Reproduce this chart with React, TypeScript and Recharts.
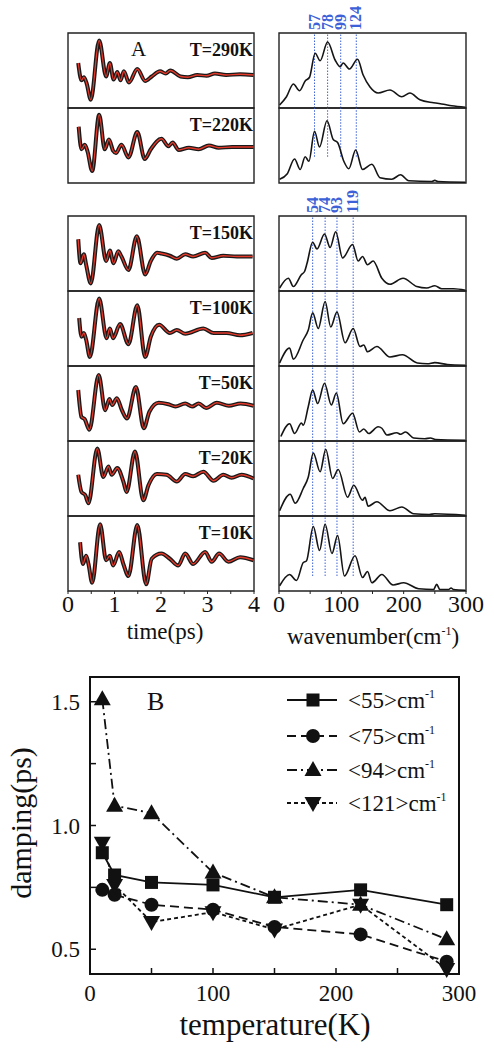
import React from "react";
import {
  LineChart,
  Line,
  XAxis,
  YAxis,
  ReferenceLine,
  ReferenceArea,
  Legend,
  Label,
} from "recharts";

const FONT = '"Liberation Serif", "Times New Roman", serif';
const RED = "#e5392a";
const BLUE = "#3d62d8";

type Pt = [number, number];

// panel A: time traces, [time(ps), relative amplitude 0-100]
const trace290K: Pt[] = [[0.22,60],[0.29,37],[0.34,41],[0.4,33],[0.49,11],[0.67,90],[0.82,42],[0.9,60],[0.98,38],[1.06,48],[1.13,37],[1.2,49],[1.31,34],[1.49,52],[1.66,36],[1.8,42],[1.98,49],[2.1,46],[2.2,50],[2.42,42],[2.58,41],[2.78,44],[2.98,43],[3.16,46],[3.4,44],[3.7,45],[3.99,44]];
const trace220K: Pt[] = [[0.23,75],[0.29,45],[0.36,51],[0.42,42],[0.52,16],[0.67,91],[0.79,45],[0.88,58],[0.97,43],[1.03,40],[1.15,51],[1.3,34],[1.49,68],[1.65,32],[1.78,45],[2.01,59],[2.16,49],[2.25,54],[2.38,44],[2.6,47],[2.81,45],[3.03,50],[3.24,47],[3.53,48],[3.99,48]];
const trace150K: Pt[] = [[0.22,69],[0.27,37],[0.34,49],[0.39,35],[0.49,10],[0.67,88],[0.82,40],[0.9,54],[0.98,37],[1.08,53],[1.15,46],[1.3,28],[1.48,73],[1.66,22],[1.78,40],[1.92,51],[2.01,50],[2.19,47],[2.34,43],[2.52,49],[2.69,46],[2.95,51],[3.09,44],[3.34,47],[3.63,46],[3.97,46]];
const trace100K: Pt[] = [[0.24,64],[0.29,39],[0.34,44],[0.39,35],[0.47,12],[0.67,90],[0.83,37],[0.9,50],[0.97,37],[1.12,56],[1.3,29],[1.49,81],[1.66,12],[1.78,39],[1.96,55],[2.19,44],[2.34,48],[2.52,43],[2.91,50],[3.13,44],[3.41,44],[3.7,41],[3.97,44]];
const trace50K: Pt[] = [[0.22,68],[0.29,32],[0.36,29],[0.46,15],[0.66,88],[0.8,41],[0.89,56],[0.95,48],[1.05,57],[1.16,41],[1.27,30],[1.46,72],[1.63,17],[1.75,39],[1.95,51],[2.16,49],[2.31,46],[2.52,50],[2.67,46],[2.81,50],[2.97,44],[3.2,51],[3.46,47],[3.71,50],[3.99,47]];
const trace20K: Pt[] = [[0.22,55],[0.29,32],[0.37,28],[0.44,17],[0.63,90],[0.76,52],[0.87,66],[0.94,55],[1.06,64],[1.19,46],[1.26,32],[1.44,86],[1.62,21],[1.73,41],[1.91,56],[2.12,55],[2.34,46],[2.52,56],[2.69,53],[2.91,59],[3.13,47],[3.34,55],[3.52,51],[3.73,55],[3.99,50]];
const trace10K: Pt[] = [[0.26,65],[0.32,36],[0.39,47],[0.44,36],[0.52,11],[0.69,89],[0.82,41],[0.9,47],[0.97,34],[1.1,52],[1.19,36],[1.3,20],[1.49,88],[1.68,9],[1.8,43],[2.01,50],[2.19,43],[2.37,34],[2.52,50],[2.69,36],[2.95,52],[3.09,39],[3.25,50],[3.45,39],[3.7,45],[3.99,41]];

// panel A: spectra, [wavenumber(cm-1), relative intensity 0-100]
const spec290K: Pt[] = [[1,4],[12,15],[23,32],[33,23],[42,36],[49,41],[58,73],[66,63],[78,88],[90,64],[98,55],[103,60],[113,52],[126,65],[135,44],[146,28],[159,20],[178,24],[197,15],[210,20],[226,11],[248,7],[264,5],[277,3],[299,1]];
const spec220K: Pt[] = [[1,5],[13,12],[25,32],[34,18],[42,35],[48,29],[57,69],[65,48],[77,83],[87,58],[94,54],[104,29],[112,19],[123,44],[134,18],[149,25],[162,7],[181,5],[195,11],[208,3],[245,2],[250,3.5],[255,2],[299,1]];
const spec150K: Pt[] = [[1,4],[15,17],[23,6],[36,22],[41,26],[45,37],[54,65],[61,56],[73,76],[82,58],[91,79],[102,44],[118,62],[127,40],[134,46],[142,35],[151,40],[165,17],[178,9],[199,17],[221,6],[237,4],[250,7],[261,3],[280,3],[299,1]];
const spec100K: Pt[] = [[1,4],[17,24],[23,9],[39,35],[47,48],[54,71],[63,50],[74,86],[83,52],[93,72],[106,31],[119,50],[130,26],[136,28],[142,19],[157,26],[178,12],[198,15],[222,4],[238,3],[250,4.5],[270,2],[299,1]];
const spec50K: Pt[] = [[3,6],[17,23],[25,10],[36,24],[39,21],[47,46],[54,68],[62,50],[73,77],[84,48],[92,64],[103,23],[118,37],[129,12],[136,16],[144,10],[159,19],[165,17],[173,8],[189,11],[195,9],[203,12],[216,4],[234,3],[243,4],[251,2],[299,1]];
const spec20K: Pt[] = [[1,7],[18,29],[26,17],[39,37],[47,52],[55,84],[66,59],[75,89],[86,50],[95,62],[110,25],[120,41],[134,21],[138,25],[143,13],[157,19],[178,7],[197,12],[216,3],[241,2],[250,3],[299,1]];
const spec10K: Pt[] = [[1,7],[17,22],[28,14],[39,38],[44,40],[55,86],[65,54],[74,89],[85,50],[94,74],[105,20],[122,47],[134,18],[142,26],[149,11],[165,22],[183,8],[200,11],[224,3],[248,2],[253,9],[258,2],[272,2],[276,4],[280,2],[299,1]];

const panelLabels = ["T=290K", "T=220K", "T=150K", "T=100K", "T=50K", "T=20K", "T=10K"];
const traces = [trace290K, trace220K, trace150K, trace100K, trace50K, trace20K, trace10K];
const spectra = [spec290K, spec220K, spec150K, spec100K, spec50K, spec20K, spec10K];

const modesHigh = [57, 78, 99, 124];
const modesLow = [54, 74, 93, 119];

const timeTicks = [0, 0.5, 1, 1.5, 2, 2.5, 3, 3.5, 4];
const waveTicks = [0, 50, 100, 150, 200, 250, 300];

// panel B: damping vs temperature
const temperatures = [10, 20, 50, 100, 150, 220, 290];
const damp55 = [0.89, 0.8, 0.77, 0.76, 0.71, 0.74, 0.68];
const damp75 = [0.74, 0.72, 0.68, 0.66, 0.59, 0.56, 0.45];
const damp94 = [1.51, 1.08, 1.05, 0.81, 0.71, 0.68, 0.54];
const damp121 = [0.93, 0.76, 0.61, 0.65, 0.58, 0.68, 0.42];
const tempTicks = [0, 50, 100, 150, 200, 250, 300];
const dampTicks = [0.5, 0.75, 1.0, 1.25, 1.5];

const dampSeries = [
  { key: "s55", name: "<55>", shape: "square", dash: undefined },
  { key: "s75", name: "<75>", shape: "circle", dash: "9 5" },
  { key: "s94", name: "<94>", shape: "up", dash: "10 4 2 4" },
  { key: "s121", name: "<121>", shape: "down", dash: "4 3" },
];

// layout
const PH = 75;
const panelTops = [33, 108, 216, 291, 366, 441, 516];
const LEFT_X = 68;
const LEFT_W = 186;
const RIGHT_X = 279;
const RIGHT_W = 187;

const toRows = (pts: Pt[]) => pts.map(([x, v]) => ({ x, v }));

function blueLabel(text: string) {
  return (p: any) => {
    const vb = p.viewBox || {};
    const x = vb.x + 5;
    const y = vb.y - 3;
    return (
      <text
        x={x}
        y={y}
        transform={`rotate(-90 ${x} ${y})`}
        fill={BLUE}
        fontSize={16}
        fontWeight="bold"
        textAnchor="start"
      >
        {text}
      </text>
    );
  };
}

function PanelLabel({ text }: { text: string }) {
  return (
    <div
      style={{
        position: "absolute",
        right: 1,
        top: 8,
        fontSize: 18,
        lineHeight: "18px",
        fontWeight: "bold",
        whiteSpace: "nowrap",
      }}
    >
      {text}
    </div>
  );
}

function TracePanel({ idx }: { idx: number }) {
  const bottom = idx === 6;
  const extra = bottom ? 30 : 4;
  return (
    <div style={{ position: "absolute", left: LEFT_X, top: panelTops[idx], width: LEFT_W, height: PH + extra }}>
      <LineChart width={LEFT_W} height={PH + extra} data={toRows(traces[idx])} margin={{ top: 0, right: 0, bottom: 0, left: 0 }}>
        <XAxis
          dataKey="x"
          type="number"
          domain={[0, 4]}
          ticks={timeTicks}
          interval={0}
          height={extra}
          axisLine={false}
          tickLine={{ stroke: "#222" }}
          tickSize={3}
          tickMargin={1}
          tick={bottom ? { fontSize: 24, fill: "#111" } : false}
          tickFormatter={(v: number) => (Number.isInteger(v) ? String(v) : "")}
        />
        <YAxis hide domain={[0, 100]} />
        <ReferenceArea x1={0} x2={4} y1={0} y2={100} fill="none" stroke="#222" strokeWidth={1.4} />
        <Line dataKey="v" type="monotone" stroke="#1a1a1a" strokeWidth={4} dot={false} activeDot={false} isAnimationActive={false} />
        <Line dataKey="v" type="monotone" stroke={RED} strokeWidth={1.3} dot={false} activeDot={false} isAnimationActive={false} />
      </LineChart>
      <PanelLabel text={panelLabels[idx]} />
    </div>
  );
}

function SpectrumPanel({ idx }: { idx: number }) {
  const bottom = idx === 6;
  const extra = bottom ? 30 : 4;
  const modes = idx < 2 ? modesHigh : modesLow;
  const withLabels = idx === 0 || idx === 2;
  const lowEnd = idx === 1 ? 35 : idx === 6 ? 20 : 0;
  return (
    <div style={{ position: "absolute", left: RIGHT_X, top: panelTops[idx], width: RIGHT_W, height: PH + extra }}>
      <LineChart width={RIGHT_W} height={PH + extra} data={toRows(spectra[idx])} margin={{ top: 0, right: 0, bottom: 0, left: 0 }}>
        <XAxis
          dataKey="x"
          type="number"
          domain={[0, 300]}
          ticks={waveTicks}
          interval={0}
          height={extra}
          axisLine={false}
          tickLine={{ stroke: "#222" }}
          tickSize={3}
          tickMargin={1}
          tick={bottom ? { fontSize: 24, fill: "#111" } : false}
          tickFormatter={(v: number) => (v % 100 === 0 ? String(v) : "")}
        />
        <YAxis hide domain={[0, 100]} />
        {modes.map((m) => (
          <ReferenceLine
            key={m}
            segment={[{ x: m, y: lowEnd }, { x: m, y: 100 }]}
            stroke={BLUE}
            strokeWidth={1}
            strokeDasharray="1.5 1.5"
            label={withLabels ? blueLabel(String(m)) : undefined}
          />
        ))}
        <ReferenceArea x1={0} x2={300} y1={0} y2={100} fill="none" stroke="#222" strokeWidth={1.4} />
        <Line dataKey="v" type="monotone" stroke="#151515" strokeWidth={1.6} dot={false} activeDot={false} isAnimationActive={false} />
      </LineChart>
    </div>
  );
}

function markerEl(shape: string, cx: number, cy: number, key?: string) {
  if (shape === "square") return <rect key={key} x={cx - 6.5} y={cy - 6.5} width={13} height={13} fill="#111" />;
  if (shape === "circle") return <circle key={key} cx={cx} cy={cy} r={7} fill="#111" />;
  if (shape === "up")
    return <path key={key} d={`M${cx},${cy - 9}L${cx + 8.5},${cy + 6}L${cx - 8.5},${cy + 6}Z`} fill="#111" />;
  return <path key={key} d={`M${cx},${cy + 9}L${cx + 8.5},${cy - 6}L${cx - 8.5},${cy - 6}Z`} fill="#111" />;
}

function DampLegend() {
  const rows = [17, 53, 87, 120];
  return (
    <svg width={200} height={140} style={{ overflow: "visible" }}>
      {dampSeries.map((s, i) => {
        const y = rows[i];
        return (
          <g key={s.key}>
            <line x1={7} x2={57} y1={y} y2={y} stroke="#111" strokeWidth={1.8} strokeDasharray={s.dash} />
            {markerEl(s.shape, 33, y)}
            <text x={68} y={y + 8} fontSize={23} fill="#111">
              {s.name + "cm"}
              <tspan dy={-10} fontSize={12}>
                -1
              </tspan>
            </text>
          </g>
        );
      })}
    </svg>
  );
}

function DampingChart() {
  const rows = temperatures.map((t, i) => ({
    t,
    s55: damp55[i],
    s75: damp75[i],
    s94: damp94[i],
    s121: damp121[i],
  }));
  return (
    <div style={{ position: "absolute", left: 0, top: 660 }}>
      <LineChart width={494} height={390} data={rows} margin={{ top: 17, right: 35, bottom: 0, left: 0 }}>
        <XAxis
          dataKey="t"
          type="number"
          domain={[0, 300]}
          ticks={tempTicks}
          interval={0}
          height={76}
          axisLine={false}
          tickLine={{ stroke: "#111", strokeWidth: 1.5 }}
          tickSize={-6}
          tickMargin={17}
          tick={{ fontSize: 23, fill: "#111" }}
          tickFormatter={(v: number) => (v % 100 === 0 ? String(v) : "")}
        >
          <Label
            content={() => (
              <text x={275} y={375} textAnchor="middle" fontSize={31} fill="#111">
                temperature(K)
              </text>
            )}
          />
        </XAxis>
        <YAxis
          type="number"
          domain={[0.4, 1.6]}
          ticks={dampTicks}
          interval={0}
          width={90}
          axisLine={false}
          tickLine={{ stroke: "#111", strokeWidth: 1.5 }}
          tickSize={-6}
          tickMargin={16}
          tick={{ fontSize: 23, fill: "#111" }}
          tickFormatter={(v: number) => ((v * 4) % 2 === 0 ? v.toFixed(1) : "")}
        >
          <Label
            content={() => (
              <text x={31} y={163} transform="rotate(-90 31 163)" textAnchor="middle" fontSize={30} fill="#111">
                damping(ps)
              </text>
            )}
          />
        </YAxis>
        <ReferenceArea x1={0} x2={300} y1={0.4} y2={1.6} fill="none" stroke="#111" strokeWidth={2} />
        <Legend
          layout="vertical"
          align="center"
          verticalAlign="middle"
          wrapperStyle={{ left: 280, top: 23, width: 200, height: 140 }}
          content={() => <DampLegend />}
        />
        {dampSeries.map((s) => (
          <Line
            key={s.key}
            dataKey={s.key}
            type="linear"
            stroke="#111"
            strokeWidth={1.8}
            strokeDasharray={s.dash}
            dot={(p: any) => markerEl(s.shape, p.cx, p.cy, `${s.key}-${p.index}`)}
            activeDot={false}
            isAnimationActive={false}
          />
        ))}
      </LineChart>
    </div>
  );
}

export default function App() {
  return (
    <div
      style={{
        position: "absolute",
        left: 0,
        top: 0,
        width: 494,
        height: 1050,
        background: "#fff",
        fontFamily: FONT,
        color: "#111",
        overflow: "hidden",
      }}
    >
      <style>{`.recharts-surface{overflow:visible}`}</style>
      {panelLabels.map((_, i) => (
        <TracePanel key={`t${i}`} idx={i} />
      ))}
      {panelLabels.map((_, i) => (
        <SpectrumPanel key={`s${i}`} idx={i} />
      ))}
      <div style={{ position: "absolute", left: 131, top: 39, fontSize: 21, lineHeight: "21px" }}>A</div>
      <div
        style={{
          position: "absolute",
          left: 65,
          width: 200,
          top: 620,
          textAlign: "center",
          fontSize: 23,
          lineHeight: "23px",
        }}
      >
        time(ps)
      </div>
      <div
        style={{
          position: "absolute",
          left: 273,
          width: 200,
          top: 620,
          textAlign: "center",
          fontSize: 23,
          lineHeight: "23px",
          whiteSpace: "nowrap",
        }}
      >
        wavenumber(cm<span style={{ fontSize: 12, verticalAlign: "9px" }}>-1</span>)
      </div>
      <div style={{ position: "absolute", left: 147, top: 689, fontSize: 26, lineHeight: "26px" }}>B</div>
      <DampingChart />
    </div>
  );
}
